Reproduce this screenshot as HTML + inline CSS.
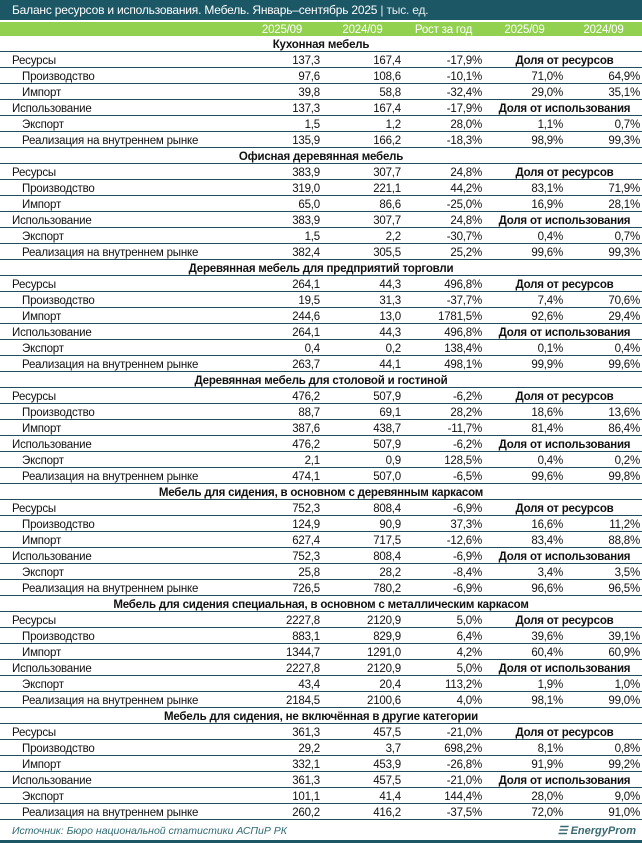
<!DOCTYPE html>
<html><head><meta charset="utf-8"><style>
body{margin:0;width:642px;height:843px;background:#fff;font-family:"Liberation Sans",sans-serif;overflow:hidden;position:relative}
.title{position:absolute;left:0;top:0;width:642px;height:20px;background:#1c5766;color:#fff;font-size:12px;line-height:21px;padding-left:12px;box-sizing:border-box;letter-spacing:-0.2px}
.title span{color:#e6eef0}
.t{position:absolute;left:0;top:22px;width:642px;font-size:11.5px;letter-spacing:-0.2px;color:#111}
.r{display:flex;height:16px;line-height:14px;padding-top:2px;box-sizing:border-box;border-bottom:1px solid #1f4e5f;white-space:nowrap}
.r>span{display:block;text-align:right;padding-right:2px;box-sizing:border-box;overflow:hidden}
.r>span:nth-child(1){width:242px;text-align:left;padding-left:12px}
.r>span:nth-child(2){width:80px}
.r>span:nth-child(3){width:81px}
.r>span:nth-child(4){width:81px}
.r>span:nth-child(5){width:81px}
.r>span:nth-child(6){width:77px}
.r>span.d{width:158px!important;text-align:center;font-weight:bold;padding:0 0 0 3px}
.r.s>span:nth-child(1){padding-left:22px}
.h{background:#92d050;color:#fff;border-bottom:none;height:14px;line-height:14px;padding-top:1px}
.h>span{text-align:center!important;padding:0!important}
.sec{justify-content:center;font-weight:bold}
.foot{position:absolute;left:12px;top:825px;font-size:10.5px;font-style:italic;color:#2e6a73}
.logo{position:absolute;right:6px;top:824px;font-size:11px;font-style:italic;font-weight:bold;color:#3a6a70}
.bar{position:absolute;left:0;top:840px;width:642px;height:3px;background:#1c5766}
</style></head><body>
<div class="title">Баланс ресурсов и использования. Мебель. Январь–сентябрь 2025 <span>| тыс. ед.</span></div>
<div class="t">
<div class="r h"><span></span><span>2025/09</span><span>2024/09</span><span>Рост за год</span><span>2025/09</span><span>2024/09</span></div>

<div class="r sec">Кухонная мебель</div>
<div class="r"><span>Ресурсы</span><span>137,3</span><span>167,4</span><span>-17,9%</span><span class="d">Доля от ресурсов</span></div>
<div class="r s"><span>Производство</span><span>97,6</span><span>108,6</span><span>-10,1%</span><span>71,0%</span><span>64,9%</span></div>
<div class="r s"><span>Импорт</span><span>39,8</span><span>58,8</span><span>-32,4%</span><span>29,0%</span><span>35,1%</span></div>
<div class="r"><span>Использование</span><span>137,3</span><span>167,4</span><span>-17,9%</span><span class="d">Доля от использования</span></div>
<div class="r s"><span>Экспорт</span><span>1,5</span><span>1,2</span><span>28,0%</span><span>1,1%</span><span>0,7%</span></div>
<div class="r s"><span>Реализация на внутреннем рынке</span><span>135,9</span><span>166,2</span><span>-18,3%</span><span>98,9%</span><span>99,3%</span></div>

<div class="r sec">Офисная деревянная мебель</div>
<div class="r"><span>Ресурсы</span><span>383,9</span><span>307,7</span><span>24,8%</span><span class="d">Доля от ресурсов</span></div>
<div class="r s"><span>Производство</span><span>319,0</span><span>221,1</span><span>44,2%</span><span>83,1%</span><span>71,9%</span></div>
<div class="r s"><span>Импорт</span><span>65,0</span><span>86,6</span><span>-25,0%</span><span>16,9%</span><span>28,1%</span></div>
<div class="r"><span>Использование</span><span>383,9</span><span>307,7</span><span>24,8%</span><span class="d">Доля от использования</span></div>
<div class="r s"><span>Экспорт</span><span>1,5</span><span>2,2</span><span>-30,7%</span><span>0,4%</span><span>0,7%</span></div>
<div class="r s"><span>Реализация на внутреннем рынке</span><span>382,4</span><span>305,5</span><span>25,2%</span><span>99,6%</span><span>99,3%</span></div>

<div class="r sec">Деревянная мебель для предприятий торговли</div>
<div class="r"><span>Ресурсы</span><span>264,1</span><span>44,3</span><span>496,8%</span><span class="d">Доля от ресурсов</span></div>
<div class="r s"><span>Производство</span><span>19,5</span><span>31,3</span><span>-37,7%</span><span>7,4%</span><span>70,6%</span></div>
<div class="r s"><span>Импорт</span><span>244,6</span><span>13,0</span><span>1781,5%</span><span>92,6%</span><span>29,4%</span></div>
<div class="r"><span>Использование</span><span>264,1</span><span>44,3</span><span>496,8%</span><span class="d">Доля от использования</span></div>
<div class="r s"><span>Экспорт</span><span>0,4</span><span>0,2</span><span>138,4%</span><span>0,1%</span><span>0,4%</span></div>
<div class="r s"><span>Реализация на внутреннем рынке</span><span>263,7</span><span>44,1</span><span>498,1%</span><span>99,9%</span><span>99,6%</span></div>

<div class="r sec">Деревянная мебель для столовой и гостиной</div>
<div class="r"><span>Ресурсы</span><span>476,2</span><span>507,9</span><span>-6,2%</span><span class="d">Доля от ресурсов</span></div>
<div class="r s"><span>Производство</span><span>88,7</span><span>69,1</span><span>28,2%</span><span>18,6%</span><span>13,6%</span></div>
<div class="r s"><span>Импорт</span><span>387,6</span><span>438,7</span><span>-11,7%</span><span>81,4%</span><span>86,4%</span></div>
<div class="r"><span>Использование</span><span>476,2</span><span>507,9</span><span>-6,2%</span><span class="d">Доля от использования</span></div>
<div class="r s"><span>Экспорт</span><span>2,1</span><span>0,9</span><span>128,5%</span><span>0,4%</span><span>0,2%</span></div>
<div class="r s"><span>Реализация на внутреннем рынке</span><span>474,1</span><span>507,0</span><span>-6,5%</span><span>99,6%</span><span>99,8%</span></div>

<div class="r sec">Мебель для сидения, в основном с деревянным каркасом</div>
<div class="r"><span>Ресурсы</span><span>752,3</span><span>808,4</span><span>-6,9%</span><span class="d">Доля от ресурсов</span></div>
<div class="r s"><span>Производство</span><span>124,9</span><span>90,9</span><span>37,3%</span><span>16,6%</span><span>11,2%</span></div>
<div class="r s"><span>Импорт</span><span>627,4</span><span>717,5</span><span>-12,6%</span><span>83,4%</span><span>88,8%</span></div>
<div class="r"><span>Использование</span><span>752,3</span><span>808,4</span><span>-6,9%</span><span class="d">Доля от использования</span></div>
<div class="r s"><span>Экспорт</span><span>25,8</span><span>28,2</span><span>-8,4%</span><span>3,4%</span><span>3,5%</span></div>
<div class="r s"><span>Реализация на внутреннем рынке</span><span>726,5</span><span>780,2</span><span>-6,9%</span><span>96,6%</span><span>96,5%</span></div>

<div class="r sec">Мебель для сидения специальная, в основном с металлическим каркасом</div>
<div class="r"><span>Ресурсы</span><span>2227,8</span><span>2120,9</span><span>5,0%</span><span class="d">Доля от ресурсов</span></div>
<div class="r s"><span>Производство</span><span>883,1</span><span>829,9</span><span>6,4%</span><span>39,6%</span><span>39,1%</span></div>
<div class="r s"><span>Импорт</span><span>1344,7</span><span>1291,0</span><span>4,2%</span><span>60,4%</span><span>60,9%</span></div>
<div class="r"><span>Использование</span><span>2227,8</span><span>2120,9</span><span>5,0%</span><span class="d">Доля от использования</span></div>
<div class="r s"><span>Экспорт</span><span>43,4</span><span>20,4</span><span>113,2%</span><span>1,9%</span><span>1,0%</span></div>
<div class="r s"><span>Реализация на внутреннем рынке</span><span>2184,5</span><span>2100,6</span><span>4,0%</span><span>98,1%</span><span>99,0%</span></div>

<div class="r sec">Мебель для сидения, не включённая в другие категории</div>
<div class="r"><span>Ресурсы</span><span>361,3</span><span>457,5</span><span>-21,0%</span><span class="d">Доля от ресурсов</span></div>
<div class="r s"><span>Производство</span><span>29,2</span><span>3,7</span><span>698,2%</span><span>8,1%</span><span>0,8%</span></div>
<div class="r s"><span>Импорт</span><span>332,1</span><span>453,9</span><span>-26,8%</span><span>91,9%</span><span>99,2%</span></div>
<div class="r"><span>Использование</span><span>361,3</span><span>457,5</span><span>-21,0%</span><span class="d">Доля от использования</span></div>
<div class="r s"><span>Экспорт</span><span>101,1</span><span>41,4</span><span>144,4%</span><span>28,0%</span><span>9,0%</span></div>
<div class="r s"><span>Реализация на внутреннем рынке</span><span>260,2</span><span>416,2</span><span>-37,5%</span><span>72,0%</span><span>91,0%</span></div>
</div>
<div class="foot">Источник: Бюро национальной статистики АСПиР РК</div>
<div class="logo">☰ EnergyProm</div>
<div class="bar"></div>
</body></html>
